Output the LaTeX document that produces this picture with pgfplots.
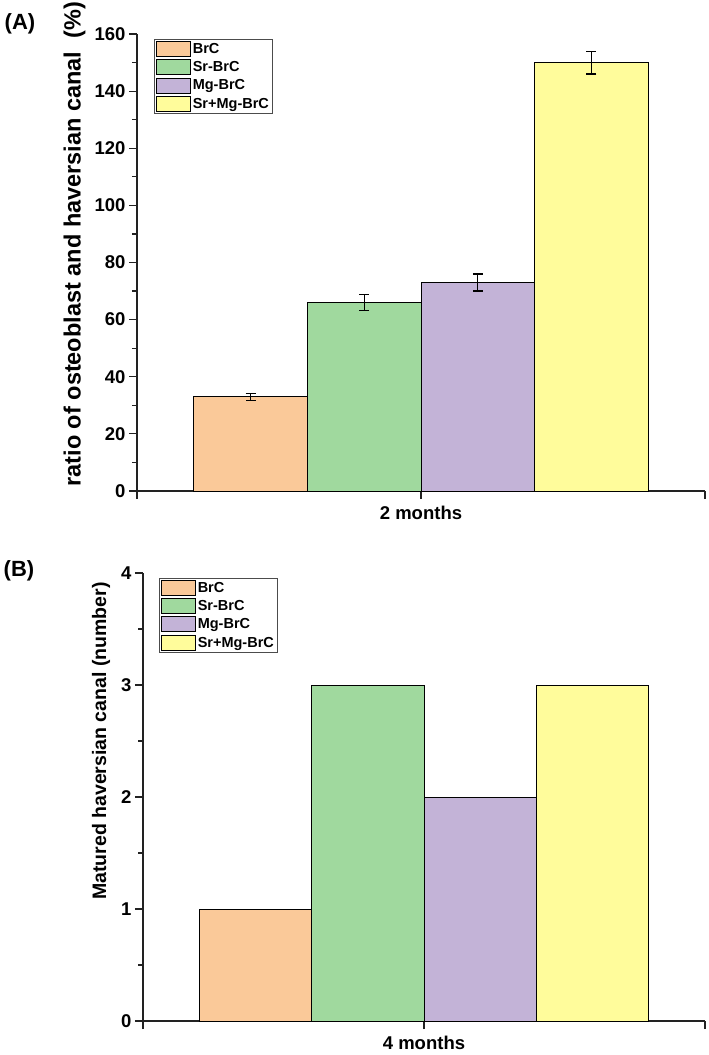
\documentclass[border=0pt]{standalone}
\usepackage{fontspec}
\setmainfont{Liberation Sans}
\usepackage{pgfplots}
\pgfplotsset{compat=1.18}

\definecolor{cbrc}{HTML}{FAC999}
\definecolor{csr}{HTML}{A0D99E}
\definecolor{cmg}{HTML}{C3B3D7}
\definecolor{csrmg}{HTML}{FFFC9B}
\definecolor{axcol}{HTML}{222222}

\pgfplotsset{
  panel/.style={
    scale only axis,
    axis lines=left, axis line style={-, axcol, line width=1.3pt},
    xmin=-2.5, xmax=2.5, ymin=0,
    ybar, bar width=1, bar shift=0pt,
    tick align=outside, tick style={axcol, line width=1.2pt},
    major tick length=8pt, minor tick length=5pt,
    minor y tick num=1,
    xtick={-2.5,0,2.5},
    /pgf/number format/assume math mode=true,
    ticklabel style={font=\fontsize{18.5}{21}\selectfont\bfseries},
    xticklabel style={yshift=-4pt},
    ylabel style={font=\fontsize{19.5}{22}\selectfont\bfseries, rotate=0, anchor=center},
    legend style={font=\fontsize{14.5}{16}\selectfont\bfseries, draw=black!70,
      line width=0.9pt, inner sep=1.5pt, row sep=2.5pt, anchor=north west,
      legend cell align=left},
    legend image code/.code={\draw[#1] (0pt,-7.5pt) rectangle (34pt,7.5pt);},
    every axis plot/.append style={draw=black, line width=0.8pt},
    error bars/y dir=both, error bars/y explicit,
    error bars/error bar style={black, line width=1.2pt},
    error bars/error mark options={rotate=90, mark size=5pt, line width=1.2pt, black},
  },
}

\begin{document}
\begin{tikzpicture}
\path[use as bounding box] (0pt,0pt) rectangle (709pt,-1055pt);

\begin{axis}[panel,
  at={(137pt,-491pt)}, anchor=south west,
  width=568pt, height=457pt,
  ymax=160, ytick={0,20,...,160},
  xticklabels={,2 months,},
  ylabel={ratio of osteoblast and haversian canal~~(\%)},
  ylabel style={at={(axis description cs:-0.110,0.540)},
    font=\fontsize{23.5}{26}\selectfont\bfseries},
  legend style={at={(axis description cs:0.030,0.989)}},
]
\addplot[fill=cbrc] coordinates {(-1.5,33.0) +- (0,1.2)};
\addplot[fill=csr] coordinates {(-0.5,66.0) +- (0,2.8)};
\addplot[fill=cmg] coordinates {(0.5,73.0) +- (0,3.0)};
\addplot[fill=csrmg] coordinates {(1.5,150.0) +- (0,4.0)};
\legend{BrC,Sr-BrC,Mg-BrC,Sr+Mg-BrC}
\end{axis}

\begin{axis}[panel,
  at={(143pt,-1021pt)}, anchor=south west,
  width=562pt, height=448pt,
  ymax=4, ytick={0,1,2,3,4},
  xticklabels={,4 months,},
  ylabel={Matured haversian canal (number)},
  ylabel style={at={(axis description cs:-0.0747,0.625)}},
  legend style={at={(axis description cs:0.0285,0.989)}},
]
\addplot[fill=cbrc] coordinates {(-1.5,1)};
\addplot[fill=csr] coordinates {(-0.5,3)};
\addplot[fill=cmg] coordinates {(0.5,2)};
\addplot[fill=csrmg] coordinates {(1.5,3)};
\legend{BrC,Sr-BrC,Mg-BrC,Sr+Mg-BrC}
\end{axis}

\node[font=\fontsize{22}{24}\selectfont\bfseries] at (20pt,-24pt) {(A)};
\node[font=\fontsize{22}{24}\selectfont\bfseries] at (19pt,-571pt) {(B)};
\end{tikzpicture}
\end{document}
